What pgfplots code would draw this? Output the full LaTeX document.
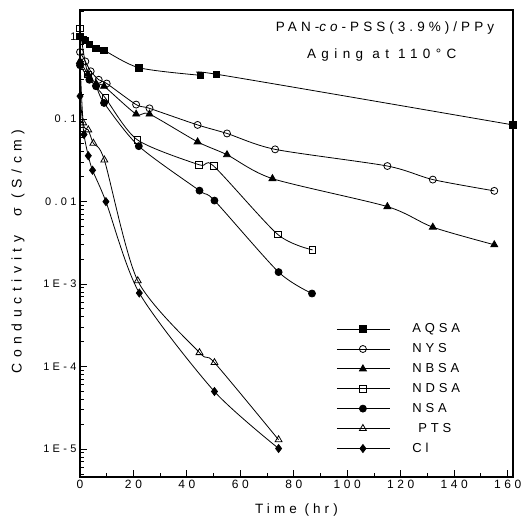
\documentclass[border=0pt]{standalone}
\usepackage{pgfplots}
\pgfplotsset{compat=1.18}
\usepackage{fontspec}
\setmainfont{Liberation Sans}
\newfontfamily\spfont[LetterSpace=30]{Liberation Sans}
\newfontfamily\spwfont[LetterSpace=40]{Liberation Sans}
\begin{document}
\begin{tikzpicture}
\useasboundingbox (-80pt,-48pt) rectangle (443pt,477pt);
\begin{axis}[
  scale only axis, width=433pt, height=467pt,
  ymode=log, xmin=0, xmax=162, ymin=4.6e-6, ymax=2.1,
  axis line style={line width=1.3pt},
  xtick={0,20,...,160}, minor x tick num=1,
  ytick={1e-5,1e-4,1e-3,1e-2,1e-1,1},
  yticklabels={1E-5,1E-4,1E-3,0.01,0.1,1},
  minor ytick={5e-6,6e-6,7e-6,8e-6,9e-6,2e-5,3e-5,4e-5,5e-5,6e-5,7e-5,8e-5,9e-5,2e-4,3e-4,4e-4,5e-4,6e-4,7e-4,8e-4,9e-4,2e-3,3e-3,4e-3,5e-3,6e-3,7e-3,8e-3,9e-3,0.02,0.03,0.04,0.05,0.06,0.07,0.08,0.09,0.2,0.3,0.4,0.5,0.6,0.7,0.8,0.9,2},
  xtick pos=bottom, ytick pos=left, tick align=inside,
  major tick length=7pt, minor tick length=4pt,
  every tick/.style={line width=1pt,black},
  /pgf/number format/assume math mode=true,
  yticklabel style={font=\spfont\fontsize{11}{13}\selectfont},
  xticklabel style={font=\spfont\fontsize{12}{14}\selectfont},
  xlabel={\spfont\fontsize{13.5}{15}\selectfont Time (hr)},
  ylabel={\spwfont\fontsize{14}{16}\selectfont Conductivity \ σ (S/cm)},
  xlabel style={yshift=-8pt},
  ylabel style={yshift=12pt, xshift=-8pt},
  every axis plot/.append style={black, line width=0.8pt, smooth, tension=0.45},
  legend style={draw=none, fill=none, at={(rel axis cs:0.585,0.337)}, anchor=north west,
    font=\spfont\fontsize{13}{15}\selectfont, row sep=5.3pt,
    legend cell align=left},
  legend image code/.code={\draw[mark repeat=2,mark phase=2] plot coordinates {(0pt,0pt) (26pt,0pt) (53pt,0pt)};},
]
\addplot[mark=square*, mark size=3.3pt] coordinates {(0,1.0)(2,0.9)(3.5,0.8)(6,0.72)(9,0.68)(22,0.42)(45,0.34)(51,0.35)(162,0.085)};
\addlegendentry{\hspace{20pt}AQSA}
\addplot[mark=o, mark size=3.5pt] coordinates {(0,0.65)(2,0.5)(4,0.38)(7,0.3)(10,0.27)(21,0.15)(26,0.135)(44,0.085)(55,0.067)(73,0.043)(115,0.027)(132,0.0185)(155,0.0135)};
\addlegendentry{\hspace{20pt}NYS}
\addplot[mark=triangle*, mark size=4pt] coordinates {(0,0.5)(3,0.35)(6,0.27)(9,0.25)(21,0.115)(26,0.115)(44,0.053)(55,0.037)(72,0.019)(115,0.0087)(132,0.0049)(155,0.003)};
\addlegendentry{\hspace{20pt}NBSA}
\addplot[mark=square, mark size=3.3pt] coordinates {(0,1.25)(3,0.35)(9.5,0.18)(21.5,0.056)(44.5,0.028)(50,0.027)(74,0.004)(87,0.0026)};
\addlegendentry{\hspace{20pt}NDSA}
\addplot[mark=*, mark size=3.5pt] coordinates {(0,0.45)(3.5,0.3)(6,0.25)(9,0.157)(22,0.047)(44.7,0.0136)(50.3,0.0103)(74.3,0.0014)(86.8,0.00077)};
\addlegendentry{\hspace{20pt}NSA}
\addplot[mark=triangle, mark size=4pt] coordinates {(0,0.5)(1.2,0.09)(3.1,0.074)(5,0.051)(9.1,0.032)(21.6,0.0011)(44.7,1.48e-4)(50.3,1.12e-4)(74.3,1.3e-5)};
\addlegendentry{\hspace{26pt}PTS}
\addplot[mark=diamond*, mark size=4pt] coordinates {(0,0.19)(1.5,0.065)(3.1,0.036)(4.7,0.024)(9.7,0.010)(22.2,7.8e-4)(50.3,5e-5)(74.3,1.02e-5)};
\addlegendentry{\hspace{20pt}Cl}
\node[font=\spfont\fontsize{13.5}{15}\selectfont, anchor=west, inner sep=0pt] at (rel axis cs:0.452,0.961) {PAN-\textit{co}-PSS(3.9\%)/PPy};
\node[font=\spwfont\fontsize{13.5}{15}\selectfont, anchor=west, inner sep=0pt] at (rel axis cs:0.524,0.904) {Aging at 110°C};
\end{axis}
\end{tikzpicture}
\end{document}
